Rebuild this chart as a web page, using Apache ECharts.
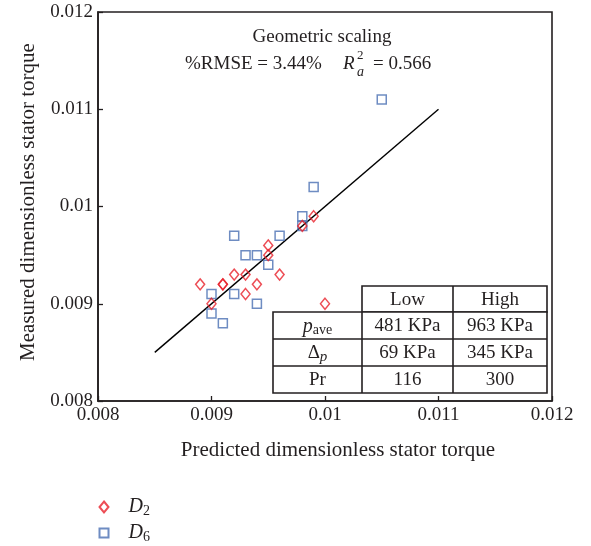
<!DOCTYPE html>
<html>
<head>
<meta charset="utf-8">
<script src="https://cdn.jsdelivr.net/npm/echarts@6/dist/echarts.min.js"></script>
<style>
  html, body { margin: 0; padding: 0; background: #fff; }
  #chart { width: 591px; height: 546px; }
</style>
</head>
<body>
<div id="chart"></div>
<script>
// Predicted vs measured dimensionless stator torque, two machine sizes
const d2Predicted = [0.0099, 0.0098, 0.0095, 0.0095, 0.0093, 0.0092, 0.0096, 0.0089, 0.0091, 0.0091, 0.0094, 0.0093, 0.0090, 0.0100];
const d2Measured  = [0.0099, 0.0098, 0.0096, 0.0095, 0.0093, 0.0093, 0.0093, 0.0092, 0.0092, 0.0092, 0.0092, 0.0091, 0.0090, 0.0090];

const d6Predicted = [0.0105, 0.0099, 0.0098, 0.0098, 0.0092, 0.0096, 0.0093, 0.0094, 0.0095, 0.0090, 0.0092, 0.0094, 0.0090, 0.0091];
const d6Measured  = [0.0111, 0.0102, 0.0099, 0.0098, 0.0097, 0.0097, 0.0095, 0.0095, 0.0094, 0.0091, 0.0091, 0.0090, 0.0089, 0.0088];

// Unity line between the two ends
const fitPredicted = [0.0085, 0.0110];
const fitMeasured  = [0.0085, 0.0110];

const axisTicks = [0.008, 0.009, 0.010, 0.011, 0.012];

// Operating-condition table
const tableColumns = ['Low', 'High'];
const tableRows = ['{i|p}{sub|ave}', '{d|Δ}{isub|p}', 'Pr'];
const tableLow  = ['481 KPa', '69 KPa', '116'];
const tableHigh = ['963 KPa', '345 KPa', '300'];

const FONT = '"Liberation Serif", "DejaVu Serif", serif';
const INK = '#231f20';
const RED = '#e8212b';
const BLUE = '#4a6fb3';

const zip = (xs, ys) => xs.map((x, i) => [x, ys[i]]);
const fmt = v => String(+v.toFixed(3));

const chart = echarts.init(document.getElementById('chart'), null, { renderer: 'canvas' });

// table geometry (pixels)
const colX = [273, 362, 453, 547];
const rowY = [286, 312, 339, 366, 393];
const tableGraphics = [];
const lineStyle = { stroke: INK, lineWidth: 1.6 };
tableGraphics.push({ type: 'rect', shape: { x: colX[1], y: rowY[0], width: colX[3] - colX[1], height: rowY[1] - rowY[0] }, style: { fill: '#fff', stroke: INK, lineWidth: 1.6 }, z: 10 });
tableGraphics.push({ type: 'rect', shape: { x: colX[0], y: rowY[1], width: colX[3] - colX[0], height: rowY[4] - rowY[1] }, style: { fill: '#fff', stroke: INK, lineWidth: 1.6 }, z: 10 });
tableGraphics.push({ type: 'line', shape: { x1: colX[2], y1: rowY[0], x2: colX[2], y2: rowY[4] }, style: lineStyle, z: 11 });
tableGraphics.push({ type: 'line', shape: { x1: colX[1], y1: rowY[1], x2: colX[1], y2: rowY[4] }, style: lineStyle, z: 11 });
[2, 3].forEach(r => tableGraphics.push({ type: 'line', shape: { x1: colX[0], y1: rowY[r], x2: colX[3], y2: rowY[r] }, style: lineStyle, z: 11 }));

const cellText = (text, cx, cy, extra) => ({
  type: 'text', x: cx, y: cy, z: 12,
  style: Object.assign({
    text, align: 'center', verticalAlign: 'middle',
    font: '19px ' + FONT, fill: INK
  }, extra || {})
});
const cx = c => (colX[c] + colX[c + 1]) / 2;
const cy = r => (rowY[r] + rowY[r + 1]) / 2 + 1;
tableColumns.forEach((t, c) => tableGraphics.push(cellText(t, cx(c + 1), cy(0))));
const rowRich = {
  i: { fontFamily: FONT, fontStyle: 'italic', fontSize: 20, color: INK, lineHeight: 22 },
  sub: { fontFamily: FONT, fontSize: 14, color: INK, lineHeight: 14, verticalAlign: 'bottom' },
  d: { fontFamily: FONT, fontSize: 19, color: INK, lineHeight: 22 },
  isub: { fontFamily: FONT, fontStyle: 'italic', fontSize: 15, color: INK, lineHeight: 14, verticalAlign: 'bottom' }
};
tableRows.forEach((t, r) => tableGraphics.push(cellText(t, cx(0), cy(r + 1), { rich: rowRich })));
tableLow.forEach((t, r) => tableGraphics.push(cellText(t, cx(1), cy(r + 1))));
tableHigh.forEach((t, r) => tableGraphics.push(cellText(t, cx(2), cy(r + 1))));

// annotation lines at the top of the plot
const noteGraphics = [
  { type: 'text', x: 322, y: 37, z: 12, style: { text: 'Geometric scaling', align: 'center', verticalAlign: 'middle', font: '19px ' + FONT, fill: INK } },
  { type: 'text', x: 185, y: 64, z: 12, style: { text: '%RMSE = 3.44%', align: 'left', verticalAlign: 'middle', font: '19px ' + FONT, fill: INK } },
  { type: 'text', x: 343, y: 64, z: 12, style: { text: 'R', align: 'left', verticalAlign: 'middle', font: 'italic 19px ' + FONT, fill: INK } },
  { type: 'text', x: 357, y: 56, z: 12, style: { text: '2', align: 'left', verticalAlign: 'middle', font: '13px ' + FONT, fill: INK } },
  { type: 'text', x: 357, y: 72, z: 12, style: { text: 'a', align: 'left', verticalAlign: 'middle', font: 'italic 14px ' + FONT, fill: INK } },
  { type: 'text', x: 373, y: 64, z: 12, style: { text: '= 0.566', align: 'left', verticalAlign: 'middle', font: '19px ' + FONT, fill: INK } }
];

const legendRich = {
  i: { fontFamily: FONT, fontStyle: 'italic', fontSize: 20, color: INK, lineHeight: 22 },
  s: { fontFamily: FONT, fontSize: 14, color: INK, lineHeight: 13, verticalAlign: 'bottom' }
};

// one legend box per series so each entry sits on its own row
const legendEntry = (name, top, w, h) => ({
  data: [name],
  left: 94 - (w - 8) / 2, top,
  itemWidth: w, itemHeight: h,
  formatter: n => '{i|D}{s|' + n.slice(1) + '}',
  textStyle: { rich: legendRich, padding: [0, 0, 0, 15] }
});

const axisCommon = {
  type: 'value',
  min: axisTicks[0],
  max: axisTicks[axisTicks.length - 1],
  interval: 0.001,
  axisLine: { show: true, onZero: false, lineStyle: { color: INK, width: 1.6 } },
  axisTick: { show: true, inside: true, length: 5, lineStyle: { color: INK, width: 1.3 } },
  splitLine: { show: false },
  nameLocation: 'middle'
};

chart.setOption({
  animation: false,
  backgroundColor: '#fff',
  textStyle: { fontFamily: FONT },
  grid: {
    left: 98, right: 39, top: 12, bottom: 145,
    containLabel: false,
    show: true, borderColor: INK, borderWidth: 1.6, backgroundColor: 'transparent'
  },
  legend: [
    legendEntry('D2', 492, 9, 11),
    legendEntry('D6', 518, 9, 9)
  ],
  xAxis: Object.assign({}, axisCommon, {
    name: 'Predicted dimensionless stator torque',
    nameGap: 39,
    nameTextStyle: { fontFamily: FONT, fontSize: 21, color: INK, padding: [0, 0, 0, 26] },
    axisLabel: { margin: 5, formatter: fmt, fontFamily: FONT, fontSize: 19, color: INK }
  }),
  yAxis: Object.assign({}, axisCommon, {
    name: 'Measured dimensionless stator torque',
    nameGap: 59,
    nameTextStyle: { fontFamily: FONT, fontSize: 21, color: INK, padding: [0, 0, 0, 9] },
    axisLabel: { margin: 5, formatter: fmt, fontFamily: FONT, fontSize: 19, color: INK }
  }),
  series: [
    {
      type: 'line',
      data: zip(fitPredicted, fitMeasured),
      showSymbol: false,
      lineStyle: { color: '#000', width: 1.4 },
      silent: true,
      z: 1
    },
    {
      name: 'D6',
      type: 'scatter',
      data: zip(d6Predicted, d6Measured),
      symbol: 'rect',
      symbolSize: 9,
      itemStyle: { color: 'rgba(255,255,255,0)', borderColor: BLUE, borderWidth: 1.5 },
      z: 2
    },
    {
      name: 'D2',
      type: 'scatter',
      data: zip(d2Predicted, d2Measured),
      symbol: 'diamond',
      symbolSize: [9, 11],
      itemStyle: { color: 'rgba(255,255,255,0)', borderColor: RED, borderWidth: 1.5 },
      z: 3
    }
  ],
  graphic: tableGraphics.concat(noteGraphics)
});
</script>
</body>
</html>
